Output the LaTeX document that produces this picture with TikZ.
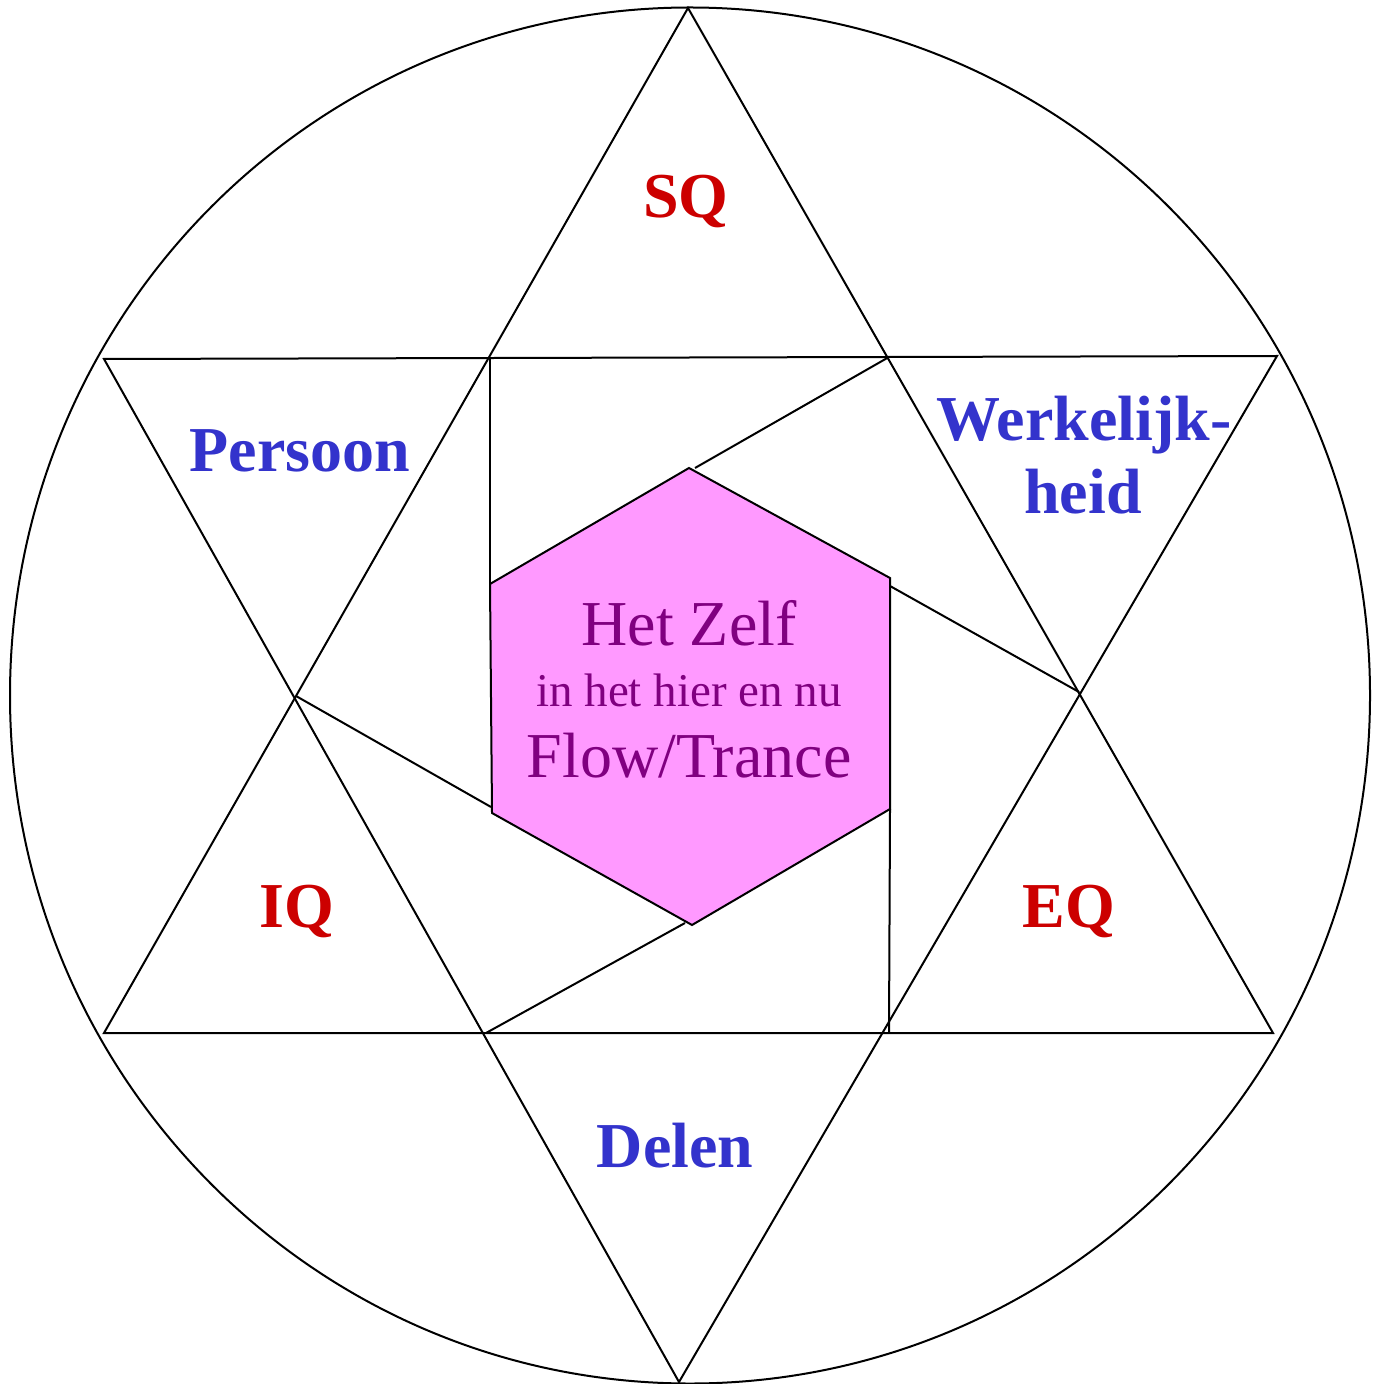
\documentclass[tikz,border=0pt]{standalone}
\usepackage{fontspec}
\setmainfont{Liberation Serif}
\definecolor{qred}{HTML}{CC0000}
\definecolor{qblue}{HTML}{3333CC}
\definecolor{selfpurple}{HTML}{800080}
\definecolor{selfpink}{HTML}{FF99FF}
\begin{document}
\begin{tikzpicture}[x=0.5pt,y=-0.5pt,
  edge/.style={draw=black,line width=1pt,line join=miter},
  redlbl/.style={text=qred,font=\fontsize{32}{36}\selectfont\bfseries,anchor=base,inner sep=0pt},
  bluelbl/.style={text=qblue,font=\fontsize{32}{36}\selectfont\bfseries,anchor=base,inner sep=0pt},
  bigself/.style={text=selfpurple,font=\fontsize{32}{36}\selectfont,anchor=base,inner sep=0pt},
  smallself/.style={text=selfpurple,font=\fontsize{23.5}{26}\selectfont,anchor=base,inner sep=0pt}]
\useasboundingbox (0,0) rectangle (1378,1384);
% outer circle
\draw[edge] (690,695.5) ellipse [x radius=340pt, y radius=344pt];
% star vertices
\coordinate (ut) at (688,8);
\coordinate (ubl) at (104,1033);
\coordinate (ubr) at (1273,1033);
\coordinate (dtl) at (104,359);
\coordinate (dtr) at (1277,356);
\coordinate (db) at (679,1382);
% inner star vertices
\coordinate (s1) at (490,357);
\coordinate (s2) at (889,357);
\coordinate (s3) at (1079,692);
\coordinate (s4) at (889,1033);
\coordinate (s5) at (486,1033);
\coordinate (s6) at (296,696);
\draw[edge] (ut) -- (ubr) -- (ubl) -- cycle;
\draw[edge] (dtl) -- (dtr) -- (db) -- cycle;
% hexagon
\coordinate (h1) at (689,468);
\coordinate (h2) at (890,578);
\coordinate (h3) at (890,809);
\coordinate (h4) at (692,925);
\coordinate (h5) at (492,813);
\coordinate (h6) at (490,584);
\filldraw[edge,fill=selfpink] (h1) -- (h2) -- (h3) -- (h4) -- (h5) -- (h6) -- cycle;
% pinwheel connectors
\coordinate (p1) at (695,468);
\coordinate (p2) at (890,586);
\coordinate (p4) at (685,923);
\coordinate (p5) at (491,807);
\draw[edge] (h6) -- (s1);
\draw[edge] (p1) -- (s2);
\draw[edge] (p2) -- (s3);
\draw[edge] (h3) -- (s4);
\draw[edge] (p4) -- (s5);
\draw[edge] (p5) -- (s6);
% labels
\node[redlbl] (sq) at (686,218) {SQ};
\node[bluelbl] (persoon) at (300,472) {Persoon};
\node[bluelbl] (werk) at (1084,441) {Werkelijk-};
\node[bluelbl] (heid) at (1083,514) {heid};
\node[redlbl] (iq) at (297,927) {IQ};
\node[redlbl] (eq) at (1069,927) {EQ};
\node[bluelbl] (delen) at (675,1167) {Delen};
\node[bigself] (zelf) at (689,645) {Het Zelf};
\node[smallself] (hier) at (689,706) {in het hier en nu};
\node[bigself] (flow) at (689,777) {Flow/Trance};
\end{tikzpicture}
\end{document}
